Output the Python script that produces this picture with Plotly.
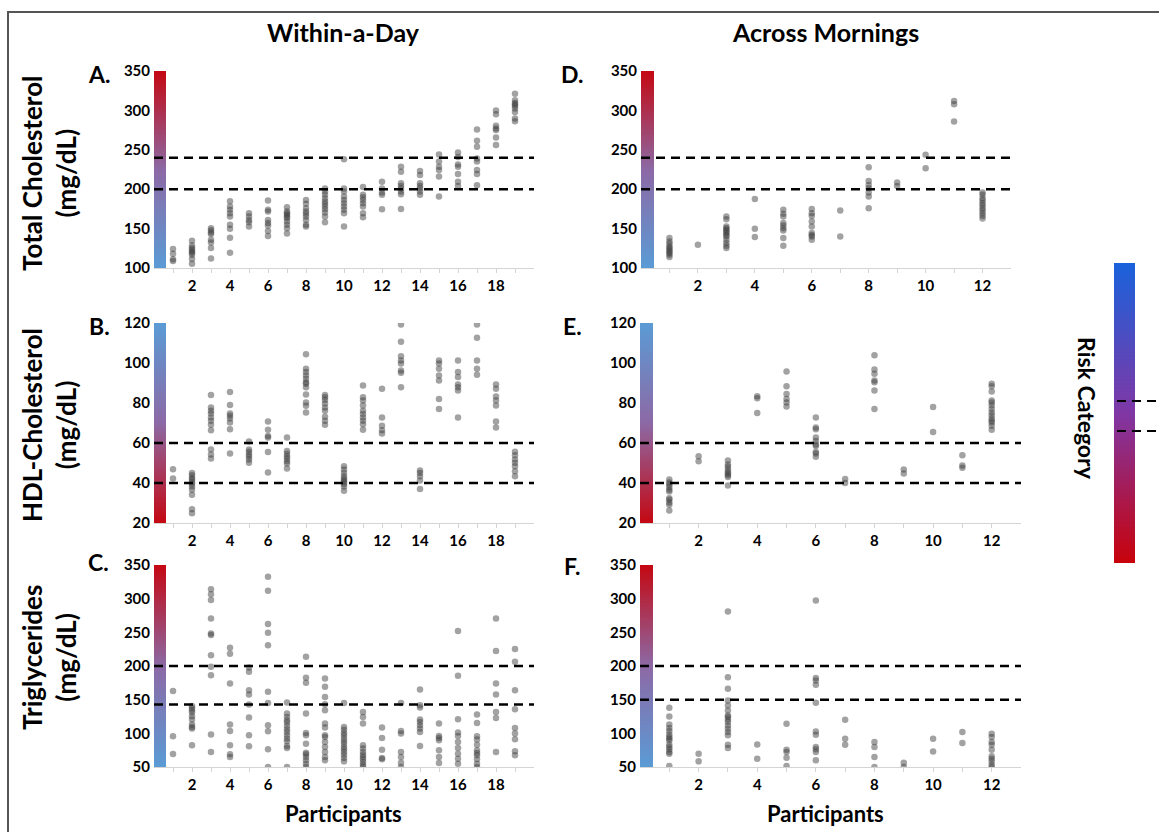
import plotly.graph_objects as go
import numpy as np

W, H = 1159, 832

# ---------------- DATA (mg/dL readings per participant) ----------------
participants_day = list(range(1, 20))
participants_morn = list(range(1, 13))

tc_day = [
    [124, 118, 111, 109],
    [134.6, 128.7, 125.3, 123.2, 121, 119, 116.9, 111.4, 105.5],
    [150.6, 148, 145, 143, 135.8, 132.5, 125.3, 112.2],
    [184.7, 178, 173.8, 169.6, 165.3, 154.8, 149.7, 138.4, 119.4],
    [169.6, 165.3, 161, 158, 152.7],
    [185.6, 173.8, 171.7, 161, 157, 154, 147, 140.5],
    [177, 171.7, 169.6, 167.5, 165, 163, 159, 154.8, 150.6, 143.8],
    [186.4, 181.4, 175.9, 171.7, 168.7, 165.3, 161, 154.8, 152.7],
    [201, 197, 192.8, 188.5, 184.3, 181.4, 178, 174.6, 170.4, 165.3, 158],
    [238, 201, 197, 190.6, 186.4, 182.2, 178, 173.8, 169.6, 152.7],
    [202.9, 192.8, 189.8, 186.4, 182.2, 178, 169.6, 164.5],
    [209.6, 201, 195.7, 192.8, 174.6],
    [228.6, 222.3, 207.5, 204.1, 201, 197, 193.6, 175],
    [223, 218, 207.5, 204, 201, 197, 192.8],
    [244, 235, 228.6, 224.4, 216, 190.6],
    [246.7, 241, 231.5, 228.6, 219.3, 209.6, 204],
    [275.8, 261.5, 253.9, 239, 235, 224.4, 219.3, 205],
    [300, 295, 280.4, 277, 275, 265.7, 256],
    [321, 313, 309.5, 307.8, 305.7, 302.4, 298, 289.7, 286.3],
]

hdl_day = [
    [46.9, 42.2],
    [45, 43.9, 42.5, 41.7, 40.5, 39.5, 38.3, 36.6, 34.1, 26.9, 24.9],
    [84, 77.8, 76.1, 74.8, 72.8, 71.1, 69.1, 66.4, 56.8, 54.3, 52.3],
    [85.5, 79, 74.8, 73.6, 72.3, 70.3, 66.9, 54.8],
    [60.7, 56.8, 55.6, 54.3, 53.1, 51.8, 50.1],
    [70.8, 66.6, 63.5, 62.7, 55.5, 45.2],
    [62.7, 56, 54.6, 53.4, 52.3, 50.9, 49.7, 47.2],
    [104.4, 97.1, 95.5, 93.8, 92.1, 90.4, 89.6, 87.9, 84.2, 80.3, 78.6, 75.3],
    [84, 82.9, 81.5, 79.8, 77.8, 76.1, 73.1, 71.1, 69.1],
    [48.4, 46.7, 45, 43.4, 42.2, 41.2, 40.5, 39.5, 38.3, 36.1],
    [88.7, 82.9, 81.2, 78.7, 76.1, 74.5, 72.8, 71.1, 69.4, 66.6],
    [87.1, 72.8, 68.6, 66.4, 64.7],
    [119.3, 110.6, 103.4, 101.3, 99.7, 96.3, 95.1, 87.9],
    [46.2, 45, 43.4, 41.3, 37],
    [101.3, 99.7, 97.1, 93.8, 91.3, 82, 77],
    [101.3, 95.5, 93, 89.2, 87.9, 86.2, 72.8],
    [119.3, 112.6, 101.3, 97.1, 94.1],
    [89.2, 87.1, 83.2, 81.2, 78.7, 70.8, 67.7],
    [55.6, 53.9, 51.8, 50.1, 48.4, 45.9, 43.4],
]

tg_day = [
    [163, 95.6, 69.3],
    [140.7, 137.8, 134.3, 130.8, 125.4, 120.4, 113, 109.5, 107, 82.2],
    [313.8, 306.4, 298, 270.7, 248.4, 245.9, 216.1, 198.8, 186.4, 98.1, 72.3],
    [227, 218.1, 174, 113, 103.6, 82.2, 68.8, 64.9],
    [197.8, 191.3, 164, 157.6, 142.7, 123.4, 97.1, 80.7],
    [332.7, 311.8, 262.2, 249.4, 231, 161.6, 145.2, 112, 103, 76.3, 50],
    [145.7, 129.3, 124.4, 119.4, 116, 111, 106, 102, 97.1, 92.2, 88.2, 81.2, 78.3, 50],
    [213.6, 182.4, 175, 129.3, 100.6, 97.1, 84.7, 71.3, 68.8, 64.9, 59.9, 55, 50],
    [181.4, 169, 154.1, 143.2, 134.3, 114.5, 108.5, 97.1, 94.6, 87.2, 79.8, 72.3, 64.9, 59.9],
    [145.2, 109.5, 105.5, 100.6, 97.1, 92.2, 88.2, 84.7, 79.8, 76.3, 72.3, 68.3, 63.4, 58.4],
    [131.8, 124.4, 114.5, 82.2, 77.3, 72.3, 68.3, 64.9, 61.4, 57.4, 53.5, 50],
    [108.5, 93.1, 75.8, 63.4, 61.4],
    [145.2, 103.6, 99.6, 72.3, 64.9, 56.4, 50],
    [165, 141.7, 138.3, 120.4, 116.9, 112, 107, 102, 81.2],
    [114.5, 96.1, 93.1, 89.7, 74.8, 64.9, 56],
    [251.8, 185.4, 120.9, 101.1, 96.1, 87.2, 78.3, 69.8, 62.4, 55],
    [127.9, 115.5, 95.6, 90.7, 83.2, 74.8, 70.8, 67.4, 61.4, 55, 50],
    [270.7, 222.1, 174, 157.6, 131.8, 122.9, 72.3],
    [225.1, 206.2, 164, 135.8, 108, 99.6, 91.2, 73.3, 67.4],
]

tc_morn = [
    [138, 133.7, 130.8, 127.4, 125.3, 123.2, 121, 119, 116.9, 114],
    [129.5],
    [165.3, 162, 152.7, 150.6, 148.5, 146.4, 144.3, 142, 140, 135.8, 131.6, 128.2, 125.3],
    [187.7, 149.7, 139.2],
    [173.8, 168.7, 165.3, 157, 154, 150.6, 147.6, 138, 128.2],
    [175, 169.6, 166, 159, 152.7, 144.3, 142, 140, 135.8],
    [173, 140],
    [227.7, 210.5, 205.4, 201.2, 195.7, 190.6, 175.9],
    [208.4, 204.1],
    [243.8, 226.5],
    [312, 307.8, 286],
    [195.7, 192.8, 188.5, 185.6, 182.2, 179.3, 175.9, 173, 169.6, 166.2, 162.8],
]

hdl_morn = [
    [41.7, 40.3, 39.2, 38, 36.6, 35.8, 32.4, 31.6, 30.3, 29.1, 26.2],
    [53.4, 50.9],
    [51.3, 49.2, 48.1, 46.7, 45.5, 44.7, 43.9, 43, 38.7],
    [83.4, 82.4, 75],
    [95.8, 88.4, 84.5, 82, 80.3, 78.3],
    [72.8, 67.7, 66.9, 62.7, 61, 59.3, 58.5, 55.5, 54.8, 53.1],
    [42, 40],
    [103.9, 96.8, 94.6, 91.3, 90.4, 86.2, 77],
    [46.7, 44.7],
    [78, 65.5],
    [53.9, 48.7, 47.6],
    [89.6, 88.4, 85.7, 81.2, 80.3, 78.7, 77, 75.3, 73.9, 72.3, 71.1, 70.3, 68.6, 66.6],
]

tg_morn = [
    [138, 125.1, 113.3, 107.8, 103.4, 98.4, 94.5, 92, 89.5, 83.1, 79.7, 76.2, 72.2, 69.8, 51.5],
    [69.8, 58.4],
    [280.8, 183.4, 166.1, 148.8, 141.4, 134, 126.6, 124.1, 120.7, 116.7, 111.8, 106.8, 101.9, 97, 83.1, 78.2],
    [83.6, 62.4],
    [114.2, 75.7, 72.2, 63.8, 51.5],
    [297.1, 182, 178.5, 172.1, 145.4, 102.9, 97.9, 79.7, 76.2, 72.2, 59.9],
    [120.2, 92, 83.1],
    [87.1, 79.7, 64.8, 50],
    [56.4, 50],
    [92, 73.2],
    [101.9, 85.6],
    [99.4, 94.5, 87.1, 83.1, 75.7, 65.8, 62.4, 58.4, 53.5, 50],
]

tc_ticks = [100, 150, 200, 250, 300, 350]
hdl_ticks = [20, 40, 60, 80, 100, 120]
tg_ticks = [50, 100, 150, 200, 250, 300, 350]
day_xticks = [2, 4, 6, 8, 10, 12, 14, 16, 18]
morn_xticks = [2, 4, 6, 8, 10, 12]

tc_thresholds = [200, 240]
hdl_thresholds = [40, 60]
tg_day_thresholds = [143, 200]
tg_morn_thresholds = [150, 200]

# ---------------- LAYOUT HELPERS ----------------
def fx(p):
    return p / W

def fy(p):
    return 1 - p / H

FONT = "Lato, Open Sans, sans-serif"
COND = "Liberation Sans Narrow, Lato, sans-serif"

risk_scale = [[0, "rgb(91,155,213)"], [0.5, "rgb(140,105,165)"], [1, "rgb(196,8,18)"]]
risk_scale_rev = [[0, "rgb(196,8,18)"], [0.5, "rgb(140,105,165)"], [1, "rgb(91,155,213)"]]

panels = [
    # data, parts, xpix, ypix, yrange, yticks, xticks, thresholds, reversed, cbw, xmax
    (tc_day, participants_day, (154, 534), (71, 268), (100, 350), tc_ticks, day_xticks, tc_thresholds, False, 0.63, 20),
    (hdl_day, participants_day, (154, 534), (323, 523), (20, 120), hdl_ticks, day_xticks, hdl_thresholds, True, 0.63, 20),
    (tg_day, participants_day, (154, 534), (565, 767), (50, 350), tg_ticks, day_xticks, tg_day_thresholds, False, 0.63, 20),
    (tc_morn, participants_morn, (641, 1011), (71, 268), (100, 350), tc_ticks, morn_xticks, tc_thresholds, False, 0.45, 13),
    (hdl_morn, participants_morn, (640, 1021), (323, 523), (20, 120), hdl_ticks, morn_xticks, hdl_thresholds, True, 0.44, 13),
    (tg_morn, participants_morn, (640, 1021), (565, 767), (50, 350), tg_ticks, morn_xticks, tg_morn_thresholds, False, 0.44, 13),
]

fig = go.Figure()
shapes = []
layout_axes = {}

for i, (data, parts, xpix, ypix, yr, yt, xt, thr, rev, cbw, xmax) in enumerate(panels, start=1):
    xa = "x" if i == 1 else f"x{i}"
    ya = "y" if i == 1 else f"y{i}"
    edges = np.linspace(yr[0], yr[1], 161)
    centers = (edges[:-1] + edges[1:]) / 2
    fig.add_trace(go.Heatmap(
        x=[0, cbw], y=edges, z=[[c] for c in centers],
        colorscale=risk_scale_rev if rev else risk_scale,
        zmin=yr[0], zmax=yr[1], showscale=False, hoverinfo="skip",
        xaxis=xa, yaxis=ya))
    xs, ys = [], []
    for p, vals in zip(parts, data):
        xs += [p] * len(vals)
        ys += vals
    fig.add_trace(go.Scatter(
        x=xs, y=ys, mode="markers",
        marker=dict(size=6.5, color="rgba(60,60,60,0.48)", line=dict(width=0)),
        xaxis=xa, yaxis=ya, showlegend=False, hoverinfo="x+y"))
    for t in thr:
        shapes.append(dict(type="line", xref=xa, yref=ya, x0=0, x1=xmax, y0=t, y1=t,
                           line=dict(color="black", width=2.5, dash="9px,6px")))
    kx = "xaxis" if i == 1 else f"xaxis{i}"
    ky = "yaxis" if i == 1 else f"yaxis{i}"
    layout_axes[kx] = dict(
        domain=[fx(xpix[0]), fx(xpix[1])], range=[0, xmax], anchor=ya, automargin=False,
        showline=True, linecolor="#d4d4d4", linewidth=1,
        ticks="outside", ticklen=4, tickcolor="#d4d4d4",
        tickmode="array", tickvals=xt, ticktext=[str(v) for v in xt],
        tickfont=dict(family=FONT, size=15, color="black", weight="bold"),
        minor=dict(tickmode="array", tickvals=list(range(1, xmax)), ticks="outside",
                   ticklen=4, tickcolor="#d4d4d4"),
        showgrid=False, zeroline=False, fixedrange=True)
    layout_axes[ky] = dict(
        domain=[fy(ypix[1]), fy(ypix[0])], range=list(yr), anchor=xa, automargin=False,
        showline=False, ticks="", tickmode="array", tickvals=yt,
        ticktext=[str(v) for v in yt],
        tickfont=dict(family=FONT, size=15, color="black", weight="bold"),
        ticklabelstandoff=3, showgrid=False, zeroline=False, fixedrange=True)

# legend colour bar (Risk Category)
edges = np.linspace(0, 1, 161)
centers = (edges[:-1] + edges[1:]) / 2
fig.add_trace(go.Heatmap(
    x=[0, 1], y=edges, z=[[c] for c in centers],
    colorscale=[[0, "rgb(200,2,10)"], [0.5, "rgb(128,55,165)"], [1, "rgb(25,98,220)"]],
    zmin=0, zmax=1, showscale=False, hoverinfo="skip", xaxis="x7", yaxis="y7"))
layout_axes["xaxis7"] = dict(domain=[fx(1114), fx(1135)], range=[0, 1], visible=False,
                             anchor="y7", automargin=False)
layout_axes["yaxis7"] = dict(domain=[fy(563), fy(263)], range=[0, 1], visible=False,
                             anchor="x7", automargin=False)

for yp in (401, 431):
    shapes.append(dict(type="line", xref="paper", yref="paper", x0=fx(1117), x1=fx(1162),
                       y0=fy(yp), y1=fy(yp), line=dict(color="black", width=2, dash="9px,6px")))

# outer frame
shapes.append(dict(type="rect", xref="paper", yref="paper", x0=fx(8), x1=1.02, y0=-0.02, y1=fy(12),
                   line=dict(color="#555555", width=2), fillcolor="rgba(0,0,0,0)", layer="below"))

annotations = []

def ann(text, x, y, size, angle=0, family=FONT):
    annotations.append(dict(text=text, x=fx(x), y=fy(y), xref="paper", yref="paper",
                            showarrow=False, textangle=angle, xanchor="center", yanchor="middle",
                            font=dict(family=family, size=size, color="black", weight="bold")))

ann("Within-a-Day", 343, 32, 25, family=COND)
ann("Across Mornings", 825, 32, 25, family=COND)
ann("Participants", 343, 813, 22)
ann("Participants", 825, 813, 22)
ann("Total Cholesterol<br>(mg/dL)", 49, 173, 26, angle=-90)
ann("HDL-Cholesterol<br>(mg/dL)", 49, 425, 26, angle=-90)
ann("Triglycerides<br>(mg/dL)", 49, 658, 26, angle=-90)
ann("Risk Category", 1087, 408, 23, angle=90)
for letter, x, y in [("A.", 99, 74), ("B.", 99, 326), ("C.", 98, 562),
                     ("D.", 572, 74), ("E.", 572, 326), ("F.", 572, 566)]:
    ann(letter, x, y, 23)

fig.update_layout(
    width=W, height=H, margin=dict(l=0, r=0, t=0, b=0, pad=0, autoexpand=False),
    paper_bgcolor="white", plot_bgcolor="rgba(0,0,0,0)",
    showlegend=False, shapes=shapes, annotations=annotations,
    font=dict(family=FONT), **layout_axes)

fig.write_html("out.html", config={"displayModeBar": False},
               post_script="document.body.style.margin='0';document.body.style.overflow='hidden';")
